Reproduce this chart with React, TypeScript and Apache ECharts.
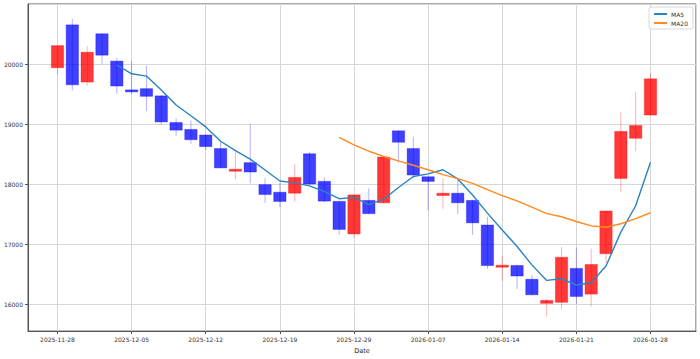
import React, { useEffect, useRef } from "react";
import * as echarts from "echarts";

const dates = [
  "2025-11-28", "2025-12-01", "2025-12-02", "2025-12-03", "2025-12-04", "2025-12-05",
  "2025-12-08", "2025-12-09", "2025-12-10", "2025-12-11", "2025-12-12",
  "2025-12-15", "2025-12-16", "2025-12-17", "2025-12-18", "2025-12-19",
  "2025-12-22", "2025-12-23", "2025-12-24", "2025-12-26", "2025-12-29",
  "2025-12-30", "2026-01-02", "2026-01-05", "2026-01-06", "2026-01-07",
  "2026-01-08", "2026-01-09", "2026-01-12", "2026-01-13", "2026-01-14",
  "2026-01-15", "2026-01-16", "2026-01-19", "2026-01-20", "2026-01-21",
  "2026-01-22", "2026-01-23", "2026-01-26", "2026-01-27", "2026-01-28",
];

const opens = [
  19939, 20652, 19700, 20504, 20049, 19570, 19590, 19470, 19026, 18911, 18818,
  18593, 18215, 18358, 17992, 17865, 17849, 18506, 18046, 17713, 17171,
  17729, 17690, 18888, 18593, 18123, 17811, 17849, 17729, 17319, 16622,
  16645, 16416, 16015, 16032, 16596, 16169, 16842, 18095, 18764, 19151,
];
const closes = [
  20307, 19655, 20197, 20148, 19634, 19555, 19463, 19036, 18900, 18741, 18626,
  18271, 18248, 18202, 17828, 17712, 18112, 18002, 17718, 17246, 17821,
  17509, 18452, 18698, 18153, 18046, 17849, 17690, 17356, 16645, 16650,
  16470, 16158, 16064, 16782, 16130, 16662, 17553, 18878, 18977, 19754,
];
const lows = [
  19831, 19562, 19634, 19995, 19507, 19496, 19217, 18987, 18806, 18670, 18567,
  18265, 18079, 18013, 17690, 17619, 17709, 17990, 17700, 17154, 17110,
  17500, 17680, 18358, 18095, 17565, 17591, 17500, 17154, 16590, 16388,
  16256, 16150, 15796, 15911, 16007, 15960, 16688, 17865, 18550, 19140,
];
const highs = [
  20307, 20750, 20300, 20504, 20099, 20049, 19972, 19480, 19097, 19059, 18830,
  18714, 18539, 19010, 18100, 18030, 18342, 18539, 18112, 17713, 17821,
  17931, 18460, 18895, 18790, 18123, 18100, 18073, 17740, 17455, 16810,
  16661, 16492, 16088, 16952, 16946, 16924, 17560, 19195, 19535, 19852,
];

const movingAverage = (vals: number[], n: number) => {
  const out: (number[])[] = [];
  for (let i = n - 1; i < vals.length; i++) {
    let s = 0;
    for (let j = i - n + 1; j <= i; j++) s += vals[j];
    out.push([i, s / n]);
  }
  return out;
};

const FONT = "DejaVu Sans";

export default function App() {
  const ref = useRef<HTMLDivElement>(null);
  useEffect(() => {
    if (!ref.current) return;
    const chart = echarts.init(ref.current, undefined, { renderer: "svg" });
    const candleData = dates.map((_, i) => [i, opens[i], closes[i], lows[i], highs[i]]);
    chart.setOption({
      animation: false,
      backgroundColor: "#ffffff",
      grid: {
        left: 28, right: 4, top: 4, bottom: 23,
        show: true, borderColor: "#555", borderWidth: 1,
      },
      legend: {
        orient: "vertical",
        right: 7, top: 7,
        data: ["MA5", "MA20"],
        itemWidth: 13, itemHeight: 2, itemGap: 3,
        padding: [4, 5, 3, 4],
        backgroundColor: "#ffffff",
        borderColor: "#d8d8d8", borderWidth: 1, borderRadius: 2,
        textStyle: { fontFamily: FONT, fontSize: 6, color: "#333", padding: [0, 0, 0, -1] },
      },
      xAxis: {
        type: "value",
        min: -1.99, max: 43.07,
        splitNumber: 9,
        name: "Date",
        nameLocation: "middle",
        nameGap: 15,
        nameTextStyle: { fontFamily: FONT, fontSize: 6.5, color: "#222" },
        axisLine: { show: true, onZero: false, lineStyle: { color: "#555", width: 1 } },
        axisTick: { show: true, length: 3, lineStyle: { color: "#555" } },
        axisLabel: {
          showMinLabel: false, showMaxLabel: false,
          fontFamily: FONT, fontSize: 6, color: "#333", margin: 5,
          formatter: (v: number) => (Number.isInteger(v) && dates[v] ? dates[v] : ""),
        },
        splitLine: { show: true, lineStyle: { color: "#d6d6d6", width: 1 } },
      },
      yAxis: {
        type: "value",
        min: 15553, max: 21000,
        splitNumber: 5,
        axisLine: { show: true, onZero: false, lineStyle: { color: "#555", width: 1 } },
        axisTick: { show: true, length: 3, lineStyle: { color: "#555" } },
        axisLabel: {
          showMinLabel: false, showMaxLabel: false,
          fontFamily: FONT, fontSize: 6, color: "#333", margin: 5,
          formatter: (v: number) => String(Math.round(v)),
        },
        splitLine: { show: true, lineStyle: { color: "#d6d6d6", width: 1 } },
      },
      series: [
        {
          type: "custom",
          name: "OHLC",
          data: candleData,
          clip: true,
          encode: { x: 0, y: [1, 2, 3, 4] },
          renderItem: (params: any, api: any) => {
            const x = api.value(0);
            const o = api.value(1), c = api.value(2), l = api.value(3), h = api.value(4);
            const up = c >= o;
            const pO = api.coord([x, o]);
            const pC = api.coord([x, c]);
            const pL = api.coord([x, l]);
            const pH = api.coord([x, h]);
            const w = api.size([0.83, 0])[0];
            const top = Math.min(pO[1], pC[1]);
            const hgt = Math.max(Math.abs(pO[1] - pC[1]), 2);
            const fill = up ? "rgba(255,0,0,0.78)" : "rgba(0,0,255,0.75)";
            const edge = up ? "rgba(255,0,0,0.35)" : "rgba(0,0,255,0.35)";
            const wick = up ? "rgba(255,0,0,0.3)" : "rgba(0,0,255,0.3)";
            return {
              type: "group",
              children: [
                {
                  type: "rect",
                  shape: { x: pO[0] - w / 2, y: top, width: w, height: hgt },
                  style: { fill, stroke: edge, lineWidth: 1 },
                },
                {
                  type: "line",
                  shape: { x1: pL[0], y1: pL[1], x2: pH[0], y2: pH[1] },
                  style: { stroke: wick, lineWidth: 1 },
                },
              ],
            };
          },
          z: 2,
        },
        {
          type: "line",
          name: "MA5",
          data: movingAverage(closes, 5),
          symbol: "none",
          lineStyle: { color: "#2b83c0", width: 1.4 },
          itemStyle: { color: "#2b83c0" },
          z: 3,
        },
        {
          type: "line",
          name: "MA20",
          data: movingAverage(closes, 20),
          symbol: "none",
          lineStyle: { color: "#ff8a1f", width: 1.4 },
          itemStyle: { color: "#ff8a1f" },
          z: 3,
        },
      ],
    });
    return () => chart.dispose();
  }, []);
  return (
    <div
      ref={ref}
      style={{ position: "fixed", left: 0, top: 0, width: 700, height: 359 }}
    />
  );
}
